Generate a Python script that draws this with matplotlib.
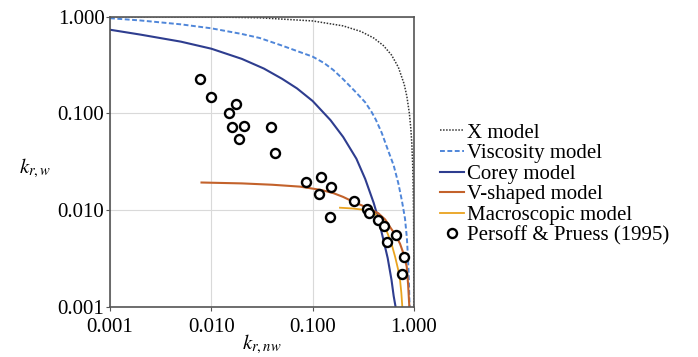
import matplotlib
matplotlib.use("Agg")
import matplotlib.pyplot as plt

plt.rcParams["font.family"] = ["Liberation Serif", "DejaVu Serif"]
plt.rcParams["mathtext.fontset"] = "stix"

# --------------------
# DATA
# --------------------
x_model_nw = [0.001, 0.01, 0.03, 0.1, 0.2, 0.3, 0.4, 0.5, 0.6, 0.7,
              0.8, 0.85, 0.9, 0.93, 0.95, 0.97, 0.98, 0.99, 0.995, 0.999]
x_model_w = [0.999, 0.99, 0.97, 0.9, 0.8, 0.7, 0.6, 0.5, 0.4, 0.3,
             0.2, 0.15, 0.1, 0.07, 0.05, 0.03, 0.02, 0.01, 0.005, 0.001]

visc_nw = [0.001, 0.002, 0.005, 0.01, 0.02, 0.03, 0.05, 0.07, 0.1, 0.13,
           0.16, 0.2, 0.26, 0.33, 0.38, 0.42, 0.48, 0.557, 0.63, 0.70,
           0.76, 0.815, 0.85, 0.873, 0.89, 0.905]
visc_w = [0.96, 0.91, 0.83, 0.755, 0.66, 0.60, 0.50, 0.44, 0.385, 0.33,
          0.28, 0.225, 0.17, 0.13, 0.104, 0.086, 0.063, 0.041, 0.029, 0.019,
          0.0125, 0.0082, 0.0052, 0.0032, 0.0019, 0.001]

corey_nw = [0.001, 0.002, 0.005, 0.01, 0.02, 0.033, 0.05, 0.07, 0.1, 0.15,
            0.2, 0.27, 0.33, 0.4, 0.45, 0.5, 0.55, 0.6, 0.63, 0.67]
corey_w = [0.73, 0.65, 0.55, 0.465, 0.365, 0.29, 0.227, 0.181, 0.134, 0.085,
           0.057, 0.034, 0.021, 0.0119, 0.0078, 0.0049, 0.0032, 0.0019, 0.0013, 0.0009]

vshape_nw = [0.008, 0.01, 0.02, 0.04, 0.075, 0.12, 0.16, 0.2, 0.252, 0.3,
             0.35, 0.444, 0.52, 0.58, 0.66, 0.728, 0.8, 0.848, 0.875, 0.90]
vshape_w = [0.0193, 0.0192, 0.0189, 0.0183, 0.0175, 0.0162, 0.0150, 0.0137, 0.0122, 0.0113,
            0.0105, 0.0093, 0.0080, 0.0067, 0.0055, 0.0045, 0.0034, 0.0026, 0.0017, 0.001]

macro_nw = [0.186, 0.25, 0.342, 0.40, 0.446, 0.50, 0.54, 0.60, 0.651, 0.70,
            0.728, 0.75, 0.767]
macro_w = [0.0106, 0.0104, 0.0100, 0.0094, 0.0085, 0.0071, 0.0060, 0.0045, 0.0033, 0.0024,
           0.0019, 0.0014, 0.001]

persoff_nw = [0.0077, 0.0099, 0.0174, 0.0149, 0.0161, 0.0209, 0.0186, 0.0386, 0.0425,
              0.086, 0.120, 0.116, 0.150, 0.149, 0.258, 0.342, 0.358, 0.446,
              0.511, 0.546, 0.670, 0.798, 0.758]
persoff_w = [0.228, 0.147, 0.126, 0.100, 0.072, 0.074, 0.0543, 0.072, 0.0389,
             0.0194, 0.0220, 0.0147, 0.0174, 0.0084, 0.0125, 0.0103, 0.0094, 0.0079,
             0.0069, 0.0047, 0.0055, 0.0033, 0.0022]

ticks = [0.001, 0.01, 0.1, 1.0]
tick_labels = ["0.001", "0.010", "0.100", "1.000"]

# --------------------
# PLOT
# --------------------
fig = plt.figure(figsize=(6.98, 3.57), dpi=100)
ax = fig.add_axes([110 / 698, 50 / 357, 304 / 698, 290.5 / 357])

ax.plot(x_model_nw, x_model_w, color="#333333", lw=1.1, dashes=(1, 1), label="X model")
ax.plot(visc_nw, visc_w, color="#4F86D9", lw=1.4, dashes=(2.5, 1.3), label="Viscosity model")
ax.plot(corey_nw, corey_w, color="#2E3D8F", lw=1.5, label="Corey model")
ax.plot(vshape_nw, vshape_w, color="#C3622B", lw=1.5, label="V-shaped model")
ax.plot(macro_nw, macro_w, color="#E9A31F", lw=1.3, label="Macroscopic model")
ax.plot(persoff_nw, persoff_w, ls="none", marker="o", ms=6.5, mfc="white",
        mec="black", mew=1.7, label="Persoff & Pruess (1995)")

ax.set_xscale("log")
ax.set_yscale("log")
ax.set_xlim(0.001, 1.0)
ax.set_ylim(0.001, 1.0)
ax.set_xticks(ticks)
ax.set_xticklabels(tick_labels)
ax.set_yticks(ticks)
ax.set_yticklabels(tick_labels)
ax.minorticks_off()
ax.tick_params(axis="both", labelsize=15, length=3, width=0.8, color="#555555", direction="out")
ax.tick_params(axis="y", pad=1)
ax.tick_params(axis="x", pad=5)
ax.grid(True, color="#d9d9d9", lw=0.8)
ax.set_axisbelow(True)
for sp in ax.spines.values():
    sp.set_color("#555555")
    sp.set_linewidth(1.2)

ax.set_xlabel(r"$k_{r,nw}$", fontsize=15, va="center")
ax.xaxis.set_label_coords(0.5, -0.13)
ax.set_ylabel(r"$k_{r,w}$", fontsize=15, rotation=0, ha="center", va="center")
ax.yaxis.set_label_coords(-0.247, 0.478)

fig.legend(loc="upper left", bbox_to_anchor=(440 / 698, 1 - 123 / 357), frameon=False,
           fontsize=15, handlelength=1.15, handletextpad=0.15, labelspacing=0.05,
           borderpad=0, borderaxespad=0)

fig.savefig("out.png", dpi=100)
